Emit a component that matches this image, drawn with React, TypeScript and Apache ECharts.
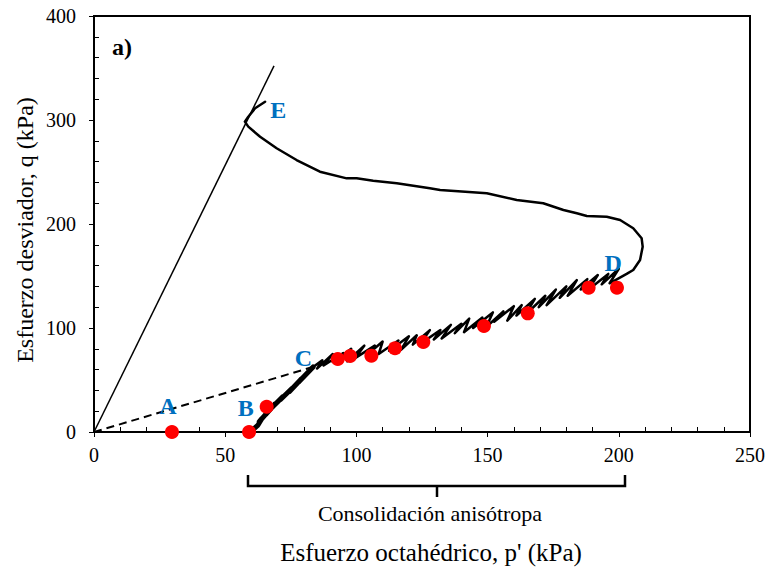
import React, { useEffect, useRef } from "react";
import * as echarts from "echarts";

// Loading from B to C (thick band), p' and q in kPa
const bcP = [59.5, 62.5, 64, 63, 66.5, 65.5, 69, 68, 72, 71, 75.5, 74.5, 79, 78, 83.5];
const bcQ = [0, 6.7, 13, 10, 20, 17, 27, 24, 34, 31, 42, 39, 51, 48, 62.5];

// Stress path C -> D (cyclic zigzag) -> E
const pathP = [
  83.5, 87, 85, 91, 87.5, 95, 92, 98, 96.5, 103, 99.5, 107, 104, 110, 108.5, 116, 112.5,
  120, 117, 123, 121.5, 128, 124.5, 132, 129.5, 136, 132.5, 140, 137.5, 143, 141, 148, 144.5,
  152, 149.5, 156, 152.5, 160, 157.5, 163, 161, 168, 164.5, 172, 169.5, 176, 172.5, 180, 177.5,
  184, 180.5, 188, 185.5, 192, 188.5, 196, 193.5, 200, 196.5, 203,
  205.5, 208.1, 209.1, 208.7, 205.5, 200.5, 195.4, 187.8, 184.0, 178.9, 171.2,
  161.1, 149.7, 131.9, 128.0, 115.4, 106.4, 100.1, 96.3, 86.1, 77.2, 69.6, 63.3,
  58.8, 57.5, 58.8, 61.4, 65.2,
];
const pathQ = [
  62.5, 69, 61, 75, 64, 76, 68, 80, 68, 83, 71, 83, 74, 87, 75, 88, 78,
  92, 79, 93, 84, 98, 85, 98, 89, 103, 90, 104, 95, 109, 96, 110, 100,
  115, 101, 116, 106, 121, 107, 122, 112, 128, 113, 131, 120, 137, 122, 140, 129,
  146, 131, 147, 137, 151, 137, 152, 142, 157, 143, 152,
  155.8, 165.4, 178.2, 186.3, 195.9, 203.8, 207.0, 207.7, 210.3, 213.5, 219.9,
  223.1, 229.5, 232.7, 234.3, 239.1, 241.6, 243.9, 243.9, 250.3, 261.5, 272.8, 283.9,
  293.6, 298.4, 303.2, 311.3, 317.6,
];

// Measured points (red dots)
const dotP = [29.7, 59.1, 65.8, 92.9, 97.6, 105.7, 114.7, 125.5, 148.6, 165.3, 188.5, 199.3];
const dotQ = [0, 0, 24.3, 70.2, 73.1, 73.4, 80.5, 86.5, 101.9, 114.1, 138.8, 138.8];

// Critical state line and K0 line
const cslP = [0, 68.6];
const cslQ = [0, 352];
const k0P = [0, 100];
const k0Q = [0, 75];

// Point labels
const labelNames = ["A", "B", "C", "D", "E"];
const labelP = [28.2, 57.8, 79.8, 197.9, 70.2];
const labelQ = [25, 23.4, 70.9, 162.2, 309.6];

const xTicks = { min: 0, max: 250, interval: 50 };
const yTicks = { min: 0, max: 400, interval: 100 };

const FONT = "Liberation Serif, serif";

export default function App() {
  const ref = useRef<HTMLDivElement>(null);
  useEffect(() => {
    if (!ref.current) return;
    const chart = echarts.init(ref.current, undefined, { renderer: "svg" });
    const zip = (a: number[], b: number[]) => a.map((v, i) => [v, b[i]]);
    const axisCommon = {
      axisLine: { show: true, onZero: false, lineStyle: { color: "#000", width: 2 } },
      splitLine: { show: false },
      axisTick: { show: true, inside: false, length: 5, lineStyle: { color: "#000", width: 1 } },
    };
    const minorAxis = {
      axisLine: { show: false },
      splitLine: { show: false },
      axisLabel: { show: false },
      axisTick: { show: false, inside: true },
      minorTick: { show: true, splitNumber: 5, length: 5, lineStyle: { color: "#000", width: 1 } },
    };
    chart.setOption({
      animation: false,
      textStyle: { fontFamily: FONT },
      grid: {
        left: 94, right: 19, top: 16, bottom: 137,
        show: true, borderColor: "#000", borderWidth: 2, backgroundColor: "transparent",
      },
      xAxis: [
        {
          type: "value", ...xTicks, ...axisCommon,
          axisLabel: { color: "#000", fontFamily: FONT, fontSize: 20, margin: 13 },
        },
        { type: "value", ...xTicks, position: "bottom", ...minorAxis },
      ],
      yAxis: [
        {
          type: "value", ...yTicks, ...axisCommon,
          axisLabel: { color: "#000", fontFamily: FONT, fontSize: 20, margin: 18 },
        },
        { type: "value", ...yTicks, position: "left", ...minorAxis },
      ],
      series: [
        {
          type: "line", data: zip(cslP, cslQ), showSymbol: false, symbol: "none",
          lineStyle: { color: "#000", width: 1.5 }, z: 2,
        },
        {
          type: "line", data: zip(k0P, k0Q), showSymbol: false, symbol: "none",
          lineStyle: { color: "#000", width: 2, type: [8, 5] }, z: 2,
        },
        {
          type: "line", data: zip(bcP, bcQ), showSymbol: false, symbol: "none",
          lineStyle: { color: "#000", width: 5, join: "round", cap: "round" }, z: 3,
        },
        {
          type: "line", data: zip(pathP, pathQ), showSymbol: false, symbol: "none",
          lineStyle: { color: "#000", width: 2.5, join: "round", cap: "round" }, z: 3,
        },
        {
          type: "scatter", data: zip(dotP, dotQ), symbolSize: 14,
          itemStyle: { color: "#ff0000", opacity: 1 }, z: 5,
        },
        {
          type: "scatter",
          data: labelNames.map((n, i) => ({ name: n, value: [labelP[i], labelQ[i]] })),
          symbolSize: 0, z: 6, itemStyle: { opacity: 1 },
          label: {
            show: true, position: "inside", formatter: "{b}",
            color: "#0070c0", fontFamily: FONT, fontWeight: "bold", fontSize: 24,
          },
        },
      ],
      graphic: [
        {
          type: "text", x: 112, y: 47,
          style: { text: "a)", font: `bold 24px ${FONT}`, fill: "#000", align: "left", verticalAlign: "middle" },
        },
        {
          type: "text", x: 25, y: 230, rotation: Math.PI / 2,
          style: { text: "Esfuerzo desviador, q (kPa)", font: `24px ${FONT}`, fill: "#000", align: "center", verticalAlign: "middle" },
        },
        {
          type: "text", x: 431, y: 552,
          style: { text: "Esfuerzo octahédrico, p' (kPa)", font: `25px ${FONT}`, fill: "#000", align: "center", verticalAlign: "middle" },
        },
        {
          type: "polyline", shape: { points: [[248, 475], [248, 486], [625, 486], [625, 475]] },
          style: { stroke: "#000", lineWidth: 2.5, fill: "none" },
        },
        { type: "line", shape: { x1: 437, y1: 486, x2: 437, y2: 497 }, style: { stroke: "#000", lineWidth: 2.5 } },
        {
          type: "text", x: 430, y: 513,
          style: { text: "Consolidación anisótropa", font: `22px ${FONT}`, fill: "#000", align: "center", verticalAlign: "middle" },
        },
      ],
    });
    return () => chart.dispose();
  }, []);
  return <div ref={ref} style={{ width: 769, height: 569, position: "absolute", left: 0, top: 0 }} />;
}
